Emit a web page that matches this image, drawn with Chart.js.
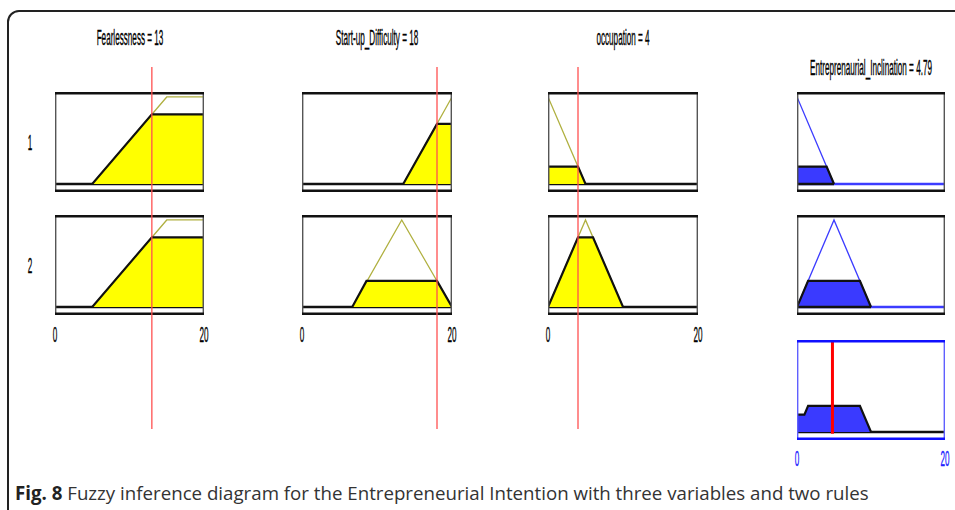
<!DOCTYPE html>
<html>
<head>
<meta charset="utf-8">
<script src="https://cdn.jsdelivr.net/npm/chart.js@4.4.1/dist/chart.umd.min.js"></script>
<style>
  body { margin: 0; background: #fff; width: 955px; height: 510px; overflow: hidden; position: relative; font-family: "Liberation Sans", Arial, sans-serif; }
  .frame { position: absolute; left: 7px; top: 10px; width: 1000px; height: 520px; border: 2px solid #222; border-radius: 12px; }
  canvas { position: absolute; }
  .lbl { position: absolute; font-size: 22px; line-height: 22px; color: #000; white-space: nowrap; -webkit-text-stroke: 0.35px #000; transform: translate(-50%, -50%) scaleX(0.37); }
  .caption { position: absolute; left: 15px; top: 481px; font-family: "Open Sans", sans-serif; font-size: 18.7px; line-height: 24px; color: #333; white-space: nowrap; }
  .caption b { color: #222; }
</style>
</head>
<body>
<div class="frame"></div>
<div class="caption"><b>Fig. 8</b> Fuzzy inference diagram for the Entrepreneurial Intention with three variables and two rules</div>
<script>
// titles and values
const inputTitles = ['Fearlessness = 13', 'Start-up_Difficulty = 18', 'occupation = 4'];
const outputTitle = 'Entreprenaurial_Inclination = 4.79';
const inputValues = [13, 18, 4];
const outputValue = 4.79;
const ruleLabels = ['1', '2'];
const xTicks = [0, 20];

// membership functions as [x, degree] corners, and the part cut by each rule
const fearlessMF = [[0, 0], [5, 0], [15, 1], [20, 1]];
const fearlessCut = [[0, 0], [5, 0], [13, 0.8], [20, 0.8], [20, 0]];
const startupMF1 = [[0, 0], [13.5, 0], [20, 1]];
const startupCut1 = [[0, 0], [13.5, 0], [18, 0.69], [20, 0.69], [20, 0]];
const startupMF2 = [[0, 0], [6.7, 0], [13.3, 1], [20, 0]];
const startupCut2 = [[0, 0], [6.7, 0], [8.6, 0.3], [18, 0.3], [20, 0]];
const occupMF1 = [[0, 1], [5, 0], [20, 0]];
const occupCut1 = [[0, 0], [0, 0.2], [4, 0.2], [5, 0], [20, 0]];
const occupMF2 = [[0, 0], [5, 1], [10, 0], [20, 0]];
const occupCut2 = [[0, 0], [4, 0.8], [6, 0.8], [10, 0], [20, 0]];
const outMF1 = [[0, 1], [5, 0], [20, 0]];
const outCut1 = [[0, 0], [0, 0.2], [4, 0.2], [5, 0]];
const outMF2 = [[0, 0], [5, 1], [10, 0], [20, 0]];
const outCut2 = [[0, 0], [1.5, 0.3], [8.5, 0.3], [10, 0]];
const outAggregate = [[0, 0], [0, 0.2], [1, 0.2], [1.5, 0.3], [8.5, 0.3], [10, 0], [20, 0]];

const inputMF = [[fearlessMF, fearlessMF], [startupMF1, startupMF2], [occupMF1, occupMF2]];
const inputCut = [[fearlessCut, fearlessCut], [startupCut1, startupCut2], [occupCut1, occupCut2]];
const outputMF = [outMF1, outMF2];
const outputCut = [outCut1, outCut2];

// layout
const colLeft = [55, 302, 548, 797];
const colWidth = [149, 150, 150, 148];
const rowTop = [92, 215, 340];
const boxH = 100;

const boxPlugin = {
    id: 'box',
    beforeDatasetsDraw(chart, args, o) {
        if (!o.zero) return;
        const { ctx, chartArea: a, scales: { y } } = chart;
        const py = y.getPixelForValue(0);
        ctx.save();
        ctx.strokeStyle = o.zero;
        ctx.lineWidth = 2.5;
        ctx.beginPath();
        ctx.moveTo(a.left, py);
        ctx.lineTo(a.right, py);
        ctx.stroke();
        ctx.restore();
    },
    afterDatasetsDraw(chart, args, o) {
        if (!o.color) return;
        const { ctx, chartArea: a } = chart;
        ctx.save();
        ctx.strokeStyle = o.side;
        ctx.lineWidth = 1.4;
        ctx.beginPath();
        ctx.moveTo(a.left + 0.7, a.top);
        ctx.lineTo(a.left + 0.7, a.bottom);
        ctx.moveTo(a.right - 0.7, a.top);
        ctx.lineTo(a.right - 0.7, a.bottom);
        ctx.stroke();
        ctx.strokeStyle = o.color;
        ctx.lineWidth = 2.5;
        ctx.beginPath();
        ctx.moveTo(a.left, a.top + 1.25);
        ctx.lineTo(a.right, a.top + 1.25);
        ctx.moveTo(a.left, a.bottom - 1.25);
        ctx.lineTo(a.right, a.bottom - 1.25);
        ctx.stroke();
        ctx.restore();
    }
};

function addCanvas(left, top, w, h) {
    const c = document.createElement('canvas');
    c.width = w;
    c.height = h;
    c.style.left = left + 'px';
    c.style.top = top + 'px';
    c.style.width = w + 'px';
    c.style.height = h + 'px';
    document.body.appendChild(c);
    return c;
}

function addText(txt, x, y, color) {
    const d = document.createElement('div');
    d.className = 'lbl';
    d.textContent = txt;
    d.style.left = x + 'px';
    d.style.top = y + 'px';
    if (color) {
        d.style.color = color;
        d.style.webkitTextStroke = '0.35px ' + color;
    }
    document.body.appendChild(d);
}

function series(points, color, width, fillColor, order) {
    return {
        data: points.map(p => ({ x: p[0], y: p[1] })),
        showLine: true,
        borderColor: color,
        borderWidth: width,
        backgroundColor: fillColor || 'transparent',
        fill: fillColor ? 'origin' : false,
        pointRadius: 0,
        order: order
    };
}

// bottom edge of a cut shape, from its first to its last x
function baseOf(points) {
    return [[points[0][0], 0], [points[points.length - 1][0], 0]];
}

function makeChart(canvas, datasets, yMin, yMax, box) {
    return new Chart(canvas, {
        type: 'scatter',
        data: { datasets: datasets },
        options: {
            responsive: false,
            animation: false,
            events: [],
            layout: { padding: 0 },
            elements: { line: { tension: 0 } },
            plugins: { legend: { display: false }, tooltip: { enabled: false }, box: box || {} },
            scales: {
                x: { type: 'linear', min: 0, max: 20, display: false },
                y: { type: 'linear', min: yMin, max: yMax, display: false }
            }
        },
        plugins: [boxPlugin]
    });
}

const yMin = -0.092, yMax = 1.057;
const yellow = '#ffff00', olive = '#b0b040', black = '#111111';
const blueFill = '#3a3aff', blueLine = '#3c3cff';

// input columns
for (let c = 0; c < 3; c++) {
    let lastChart;
    for (let r = 0; r < 2; r++) {
        const cv = addCanvas(colLeft[c], rowTop[r], colWidth[c], boxH);
        lastChart = makeChart(cv, [
            series(inputCut[c][r], black, 2.2, yellow, 0),
            series(inputMF[c][r], olive, 1.3, null, 1)
        ], yMin, yMax, { color: black, side: '#555', zero: black });
        if (r === 0) {
            addText(inputTitles[c], colLeft[c] + lastChart.scales.x.getPixelForValue(10), 38);
        }
    }
    xTicks.forEach(t => addText(String(t), colLeft[c] + lastChart.scales.x.getPixelForValue(t), 335));
}

// output column
let outChart;
for (let r = 0; r < 2; r++) {
    const cv = addCanvas(colLeft[3], rowTop[r], colWidth[3], boxH);
    outChart = makeChart(cv, [
        series(baseOf(outputCut[r]), black, 2.5, null, 0),
        series(outputCut[r], black, 2.2, blueFill, 1),
        series(outputMF[r], blueLine, 1.3, null, 2)
    ], yMin, yMax, { color: black, side: '#555', zero: blueLine });
}
addText(outputTitle, colLeft[3] + outChart.scales.x.getPixelForValue(10), 68);

const aggCanvas = addCanvas(colLeft[3], rowTop[2], colWidth[3], boxH);
const aggChart = makeChart(aggCanvas, [
    { ...series([[outputValue, -0.02], [outputValue, yMax]], '#ff0000', 3, null, 0), clip: false },
    series(outAggregate, black, 2.2, blueFill, 1)
], yMin, yMax, { color: '#1010ff', side: '#6060ff', zero: black });
xTicks.forEach(t => addText(String(t), colLeft[3] + aggChart.scales.x.getPixelForValue(t), 459, '#2020ff'));

// rule numbers
ruleLabels.forEach((lab, r) => addText(lab, 30, rowTop[r] + 51));

// red input lines across the rule rows
for (let c = 0; c < 3; c++) {
    const cv = addCanvas(colLeft[c], 67, colWidth[c], 362);
    makeChart(cv, [series([[inputValues[c], 0], [inputValues[c], 1]], '#ff5050', 1.3, null, 0)], 0, 1);
}
</script>
</body>
</html>
